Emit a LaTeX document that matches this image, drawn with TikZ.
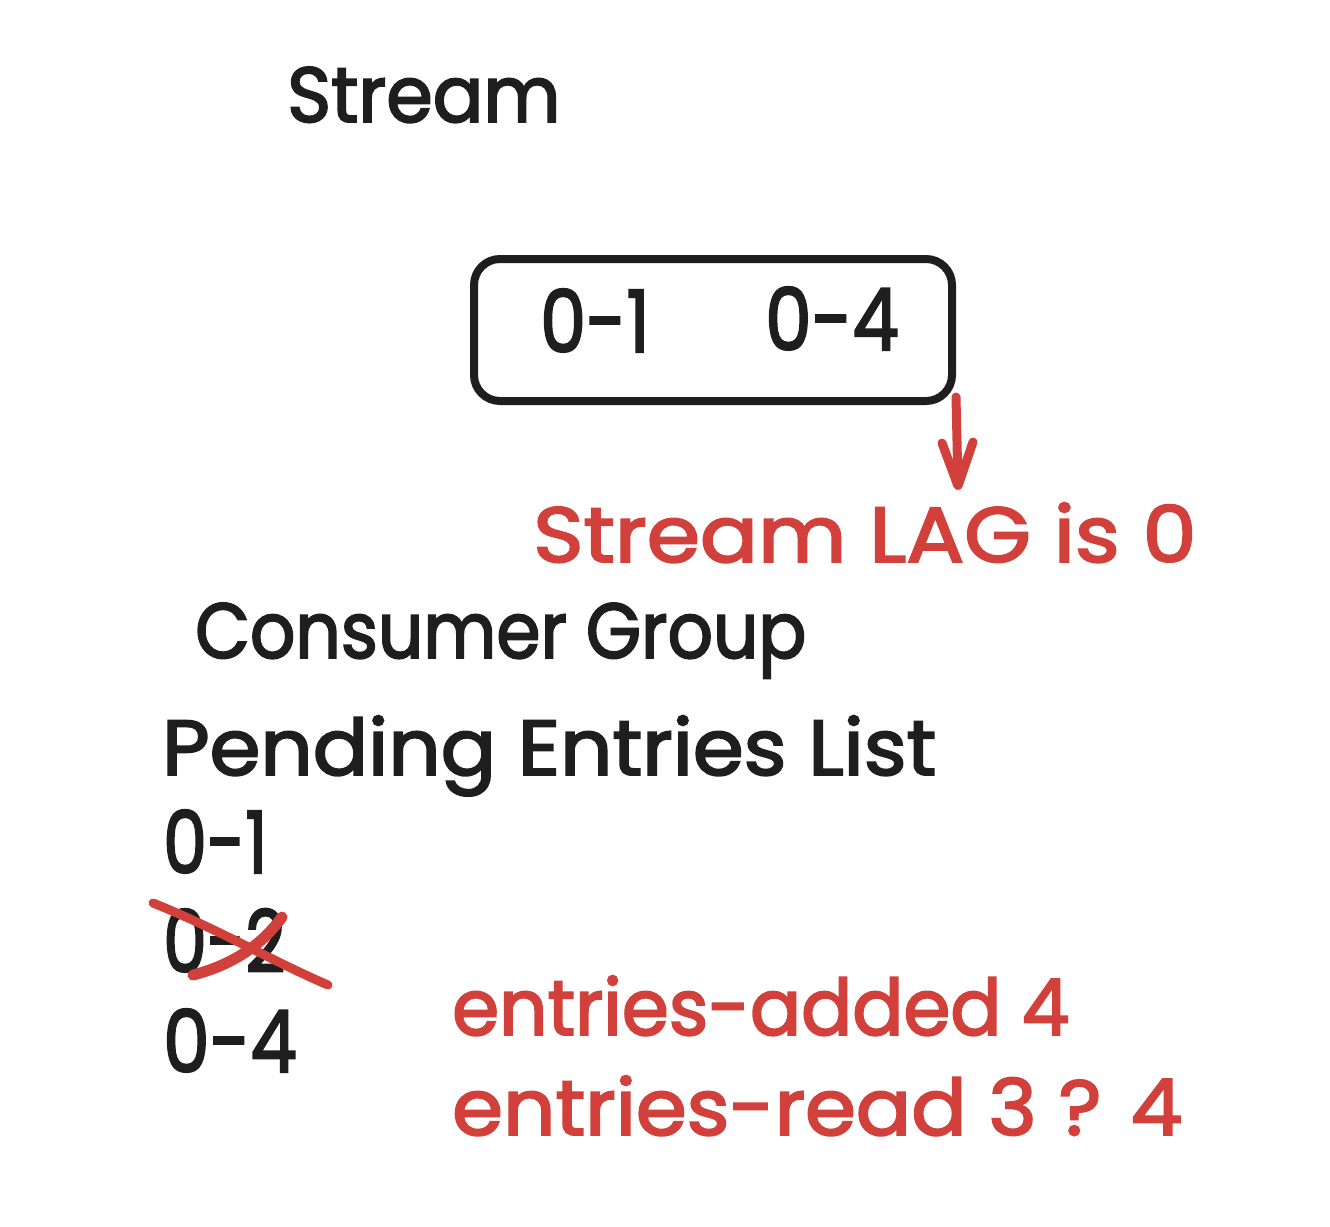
\documentclass[tikz,border=0pt]{standalone}
\usepackage{fontspec}
\setmainfont{Poppins}[FakeBold=2.5]
\definecolor{ink}{HTML}{1E1E1E}
\definecolor{redink}{HTML}{D1403A}
\newcommand{\hs}[2]{\scalebox{#1}[1]{#2}}
\begin{document}
\begin{tikzpicture}[x=1pt,y=-1pt,
  lbl/.style={anchor=base west,inner sep=0pt,text=ink,font=\fontsize{78}{90}\selectfont},
  rlbl/.style={lbl,text=redink},
  num/.style={lbl,font=\fontsize{86}{96}\selectfont},
  boxline/.style={draw=ink,line width=8pt,rounded corners=26pt},
  redline/.style={draw=redink,line width=9pt,line cap=round,line join=round}]
\useasboundingbox[fill=white] (0,0) rectangle (1330,1226);
% Stream title
\node[lbl] (stream) at (287,122) {\hs{0.96}{Stream}};
% stream box
\node[boxline,minimum width=478pt,minimum height=142pt,anchor=north west] (box) at (470,255) {};
\node[num] (s01) at (540,352) {\hs{0.85}{0-1}};
\node[num] (s04) at (765,350) {\hs{0.86}{0-4}};
% red arrow
\coordinate (atop) at (956,397);
\node[inner sep=0pt] (lagpt) at (958,486) {};
\draw[redline] (atop) -- (lagpt);
\draw[redline] (942,443) -- (lagpt) -- (973,442);
\node[rlbl] (lag) at (533,562) {\hs{1.1}{Stream LAG is 0}};
% consumer group
\node[lbl] (cg) at (195,658) {\hs{0.91}{Consumer Group}};
\node[lbl] (pel) at (162,775) {\hs{1.05}{Pending Entries List}};
\node[num] (p01) at (163,873) {\hs{0.81}{0-1}};
\node[num] (p02) at (163,972) {\hs{0.81}{0-2}};
\node[num] (p04) at (163,1072) {\hs{0.86}{0-4}};
% cross out
\draw[redline] (153,903) .. controls (220,930) and (270,960) .. (328,985);
\draw[redline,line width=11pt] (193,975) .. controls (232,965) and (262,945) .. (282,917);
% counters
\node[rlbl] (added) at (452,1035) {\hs{0.97}{entries-added 4}};
\node[rlbl] (read) at (452,1135) {\hs{1.05}{entries-read 3 ? 4}};
\end{tikzpicture}
\end{document}
